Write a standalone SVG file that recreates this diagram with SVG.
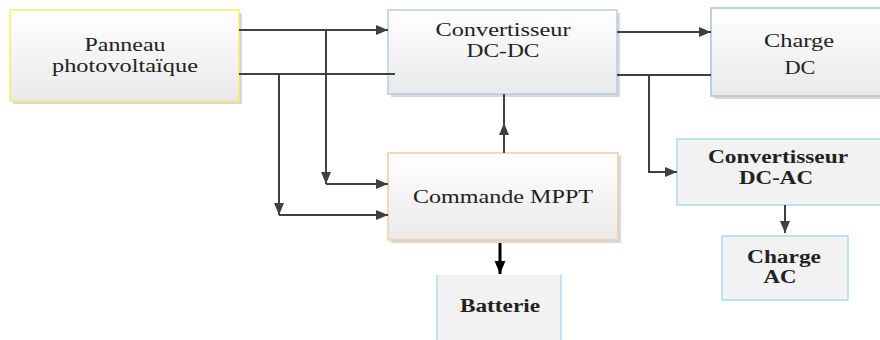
<svg xmlns="http://www.w3.org/2000/svg" width="880" height="340" viewBox="0 0 880 340">
<defs>
<linearGradient id="g" x1="0" y1="0" x2="0" y2="1">
<stop offset="0" stop-color="#ffffff"/>
<stop offset="1" stop-color="#e9e9e9"/>
</linearGradient>
<marker id="ah" viewBox="0 0 12 10" refX="12" refY="5" markerWidth="12" markerHeight="10" markerUnits="userSpaceOnUse" orient="auto">
<path d="M0,0 L12,5 L0,10 z" fill="#404040"/>
</marker>
<marker id="ahb" viewBox="0 0 12 10" refX="12" refY="5" markerWidth="13" markerHeight="12" markerUnits="userSpaceOnUse" orient="auto">
<path d="M0,0 L12,5 L0,10 z" fill="#000"/>
</marker>
</defs>
<style>
text{font-family:"Liberation Serif","Times New Roman",serif;font-size:18px;fill:#222;text-anchor:middle}
.b{font-weight:bold}
.shadow{fill:#d9d9d9}
.grad{fill:url(#g)}
.flat{fill:#f2f2f2;stroke:#a9dceb;stroke-width:1.5}
.ln{fill:none;stroke:#404040;stroke-width:2}
</style>
<rect width="880" height="340" fill="#fff"/>
<g id="panneau">
<rect class="shadow" x="13" y="13" width="229" height="91"/>
<rect class="grad" x="10" y="10" width="229" height="91" stroke="#f2ef6a" stroke-width="1.5"/>
<text x="125" y="51" textLength="81" lengthAdjust="spacingAndGlyphs">Panneau</text>
<text x="125" y="72" textLength="146" lengthAdjust="spacingAndGlyphs">photovoltaïque</text>
</g>
<g id="dcdc">
<rect class="shadow" x="391" y="13" width="229" height="84"/>
<rect class="grad" x="388" y="10" width="229" height="84" stroke="#b7cde3" stroke-width="1.5"/>
<text x="503" y="36" textLength="135" lengthAdjust="spacingAndGlyphs">Convertisseur</text>
<text x="503" y="57" textLength="73" lengthAdjust="spacingAndGlyphs">DC-DC</text>
</g>
<g id="chargedc">
<rect class="shadow" x="714" y="11" width="175" height="88"/>
<rect class="grad" x="711" y="8" width="175" height="88" stroke="#a8c2dc" stroke-width="1.5"/>
<text x="799" y="47" textLength="70" lengthAdjust="spacingAndGlyphs">Charge</text>
<text x="800" y="74" textLength="31" lengthAdjust="spacingAndGlyphs">DC</text>
</g>
<g id="mppt">
<rect class="shadow" x="391" y="156" width="230" height="87"/>
<rect class="grad" x="388" y="153" width="230" height="87" stroke="#f6c9a6" stroke-width="1.5"/>
<text x="503" y="203" textLength="180" lengthAdjust="spacingAndGlyphs">Commande MPPT</text>
</g>
<g id="dcac">
<rect class="flat" x="677" y="139" width="205" height="66"/>
<text class="b" x="778" y="163" textLength="140" lengthAdjust="spacingAndGlyphs">Convertisseur</text>
<text class="b" x="776" y="184" textLength="74" lengthAdjust="spacingAndGlyphs">DC-AC</text>
</g>
<g id="chargeac">
<rect class="flat" x="722" y="236" width="126" height="64"/>
<text class="b" x="784" y="263" textLength="74" lengthAdjust="spacingAndGlyphs">Charge</text>
<text class="b" x="780" y="283" textLength="33" lengthAdjust="spacingAndGlyphs">AC</text>
</g>
<g id="batterie">
<rect x="437" y="275" width="124" height="70" fill="#f2f2f2"/>
<line x1="437" y1="275" x2="437" y2="340" stroke="#a9dceb" stroke-width="1.5"/>
<line x1="561" y1="275" x2="561" y2="340" stroke="#a9dceb" stroke-width="1.5"/>
<text class="b" x="500" y="312" textLength="80" lengthAdjust="spacingAndGlyphs">Batterie</text>
</g>
<g id="connectors">
<line class="ln" x1="239" y1="30" x2="388" y2="30" marker-end="url(#ah)"/>
<line class="ln" x1="239" y1="74" x2="395" y2="74"/>
<line class="ln" x1="326" y1="30" x2="326" y2="184" marker-end="url(#ah)"/>
<line class="ln" x1="326" y1="184" x2="388" y2="184" marker-end="url(#ah)"/>
<line class="ln" x1="279" y1="74" x2="279" y2="215" marker-end="url(#ah)"/>
<line class="ln" x1="279" y1="215" x2="388" y2="215" marker-end="url(#ah)"/>
<line class="ln" x1="504" y1="153" x2="504" y2="123" marker-end="url(#ah)"/>
<line class="ln" x1="504" y1="125" x2="504" y2="94"/>
<line class="ln" x1="617" y1="32" x2="711" y2="32" marker-end="url(#ah)"/>
<line class="ln" x1="617" y1="75" x2="711" y2="75"/>
<path class="ln" d="M649,75 V172 H677" stroke="#333" stroke-width="2.5" marker-end="url(#ah)"/>
<line class="ln" x1="785" y1="205" x2="785" y2="233" stroke="#333" stroke-width="2.5" marker-end="url(#ah)"/>
<line x1="500" y1="243" x2="500" y2="274" stroke="#000" stroke-width="3" marker-end="url(#ahb)"/>
</g>
</svg>
